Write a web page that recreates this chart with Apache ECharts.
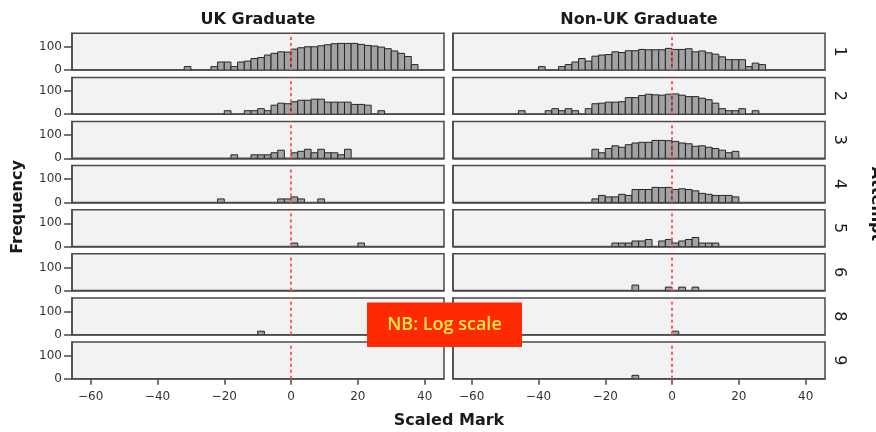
<!DOCTYPE html>
<html><head><meta charset="utf-8">
<script src="https://cdn.jsdelivr.net/npm/echarts@6/dist/echarts.min.js"></script>
<style>html,body{margin:0;padding:0;background:#fff}#c{width:876px;height:432px}</style>
</head><body><div id="c"></div>
<script>
// ---------- data ----------
const groups = ['UK Graduate', 'Non-UK Graduate'];
const attempts = ['1', '2', '3', '4', '5', '6', '8', '9'];
const binWidth = 2;
const xTicks = [-60, -40, -20, 0, 20, 40];
const yTicks = [0, 100];
const refMark = 0;

// counts per 2-mark bin, starting at the given first bin edge
const ukStart1 = -32;
const uk1 = [1,0,0,0,1,4,4,1,4,5,9,11,19,27,37,35,64,84,103,103,126,155,189,202,202,202,166,135,119,97,70,44,27,14,2];
const ukStart2 = -20;
const uk2 = [1,0,0,1,1,2,1,5,8,7,11,15,15,19,19,10,10,10,10,6,6,5,0,1];
const ukStart3 = -18;
const uk3 = [1,0,0,1,1,1,2,4,0,2,3,5,2,5,2,2,1,5];
const ukStart4 = -22;
const uk4 = [1,0,0,0,0,0,0,0,0,1,1,2,1,0,0,1];
const ukStart5 = 0;
const uk5 = [1,0,0,0,0,0,0,0,0,0,1];
const ukStart6 = 0;
const uk6 = [];
const ukStart8 = -10;
const uk8 = [1];
const ukStart9 = 0;
const uk9 = [];

const nonStart1 = -40;
const non1 = [1,0,0,1,2,4,9,5,15,19,21,37,32,46,46,60,56,56,56,74,60,60,69,37,44,30,23,13,7,7,7,1,3,2];
const nonStart2 = -46;
const non2 = [1,0,0,0,1,2,1,2,1,0,2,7,8,10,10,11,26,26,40,52,46,43,52,56,43,32,32,23,17,8,2,1,1,2,0,1];
const nonStart3 = -24;
const non3 = [5,2,6,11,8,14,20,23,23,34,34,32,28,20,17,10,11,8,6,4,2,3];
const nonStart4 = -24;
const non4 = [1,3,2,2,4,3,12,12,12,19,18,19,12,14,12,9,5,4,3,3,3,2];
const nonStart5 = -18;
const non5 = [1,1,1,2,2,3,0,2,3,1,2,3,5,1,1,1];
const nonStart6 = -12;
const non6 = [2,0,0,0,0,1,0,1,0,1];
const nonStart8 = 0;
const non8 = [1];
const nonStart9 = -12;
const non9 = [1];

// ---------- build ----------
const ukPanels = [[ukStart1,uk1],[ukStart2,uk2],[ukStart3,uk3],[ukStart4,uk4],[ukStart5,uk5],[ukStart6,uk6],[ukStart8,uk8],[ukStart9,uk9]];
const nonPanels = [[nonStart1,non1],[nonStart2,non2],[nonStart3,non3],[nonStart4,non4],[nonStart5,non5],[nonStart6,non6],[nonStart8,non8],[nonStart9,non9]];
const columns = [ukPanels, nonPanels];

const safeLog = c => Math.log10(1 + c);
const colLeft = [72, 453];
const colWidth = 372;
const rowTop0 = 33.3, rowPitch = 44.1, rowH = 36.8;
const axisColor = '#4a4a4a';
const font = 'DejaVu Sans';

const grids = [], xAxes = [], yAxes = [], series = [];
columns.forEach((panels, ci) => {
  panels.forEach((p, ri) => {
    const k = grids.length;
    const isBottom = ri === panels.length - 1;
    const isLeft = ci === 0;
    grids.push({left: colLeft[ci], top: rowTop0 + ri * rowPitch, width: colWidth, height: rowH,
      show: true, backgroundColor: '#f2f2f2', borderColor: axisColor, borderWidth: 1.5});
    xAxes.push({type: 'value', gridIndex: k, min: -65.6, max: 45.8,
      splitLine: {show: false},
      axisLine: {show: true, onZero: false, lineStyle: {color: axisColor, width: 1.5}},
      axisTick: {show: isBottom, length: 6, customValues: xTicks, lineStyle: {color: axisColor, width: 1.5}},
      axisLabel: {show: isBottom, customValues: xTicks, margin: 12, color: '#333', fontSize: 12, fontFamily: font,
        formatter: v => (v < 0 ? '\u2212' + (-v) : String(v))}});
    yAxes.push({type: 'value', gridIndex: k, min: 0, max: 3.18,
      splitLine: {show: false},
      axisLine: {show: true, onZero: false, lineStyle: {color: axisColor, width: 1.5}},
      axisTick: {show: isLeft, length: 8, customValues: yTicks.map(safeLog), lineStyle: {color: axisColor, width: 1.5}},
      axisLabel: {show: isLeft, customValues: yTicks.map(safeLog), margin: 10, color: '#333', fontSize: 12, fontFamily: font,
        formatter: v => String(Math.round(Math.pow(10, v) - 1))}});
    const start = p[0], counts = p[1];
    const data = [];
    counts.forEach((c, i) => {
      if (c > 0) data.push([start + i * binWidth, start + (i + 1) * binWidth, safeLog(c)]);
    });
    series.push({type: 'custom', xAxisIndex: k, yAxisIndex: k, clip: true,
      encode: {x: [0, 1], y: 2},
      data: data,
      renderItem: (params, api) => {
        const a = api.coord([api.value(0), api.value(2)]);
        const b = api.coord([api.value(1), 0]);
        return {type: 'rect', shape: {x: a[0], y: a[1], width: b[0] - a[0], height: b[1] - a[1]},
          style: {fill: '#a2a2a2', stroke: '#262626', lineWidth: 1}};
      },
      markLine: {silent: true, symbol: 'none', label: {show: false}, z: 10,
        lineStyle: {color: '#ff5c5c', type: [3, 3], width: 2},
        data: [{xAxis: refMark}]}
    });
  });
});

const graphics = [];
groups.forEach((g, ci) => {
  graphics.push({type: 'text', x: colLeft[ci] + colWidth / 2, y: 20,
    style: {text: g, font: 'bold 16px "DejaVu Sans"', fill: '#1a1a1a', textAlign: 'center', textVerticalAlign: 'middle'}});
});
attempts.forEach((a, ri) => {
  graphics.push({type: 'text', x: 839, y: rowTop0 + ri * rowPitch + rowH / 2, rotation: -Math.PI / 2,
    style: {text: a, font: '16px "DejaVu Sans"', fill: '#1a1a1a', textAlign: 'center', textVerticalAlign: 'middle'}});
});
graphics.push({type: 'text', x: 18, y: 207, rotation: Math.PI / 2,
  style: {text: 'Frequency', font: 'bold 16px "DejaVu Sans"', fill: '#1a1a1a', textAlign: 'center', textVerticalAlign: 'middle'}});
graphics.push({type: 'text', x: 876, y: 204, rotation: -Math.PI / 2,
  style: {text: 'Attempt', font: 'bold 16px "DejaVu Sans"', fill: '#1a1a1a', textAlign: 'center', textVerticalAlign: 'middle'}});
graphics.push({type: 'text', x: 449, y: 421,
  style: {text: 'Scaled Mark', font: 'bold 16px "DejaVu Sans"', fill: '#1a1a1a', textAlign: 'center', textVerticalAlign: 'middle'}});
graphics.push({type: 'rect', z: 100, shape: {x: 367, y: 302.5, width: 155, height: 44.5}, style: {fill: '#ff2a00'}});
graphics.push({type: 'text', z: 101, x: 444.5, y: 325,
  style: {text: 'NB: Log scale', font: '600 18px "Open Sans"', fill: '#ffe84a', textAlign: 'center', textVerticalAlign: 'middle'}});

const chart = echarts.init(document.getElementById('c'), null, {renderer: 'canvas'});
chart.setOption({
  animation: false,
  backgroundColor: '#fff',
  grid: grids, xAxis: xAxes, yAxis: yAxes, series: series,
  graphic: graphics
});
</script></body></html>
